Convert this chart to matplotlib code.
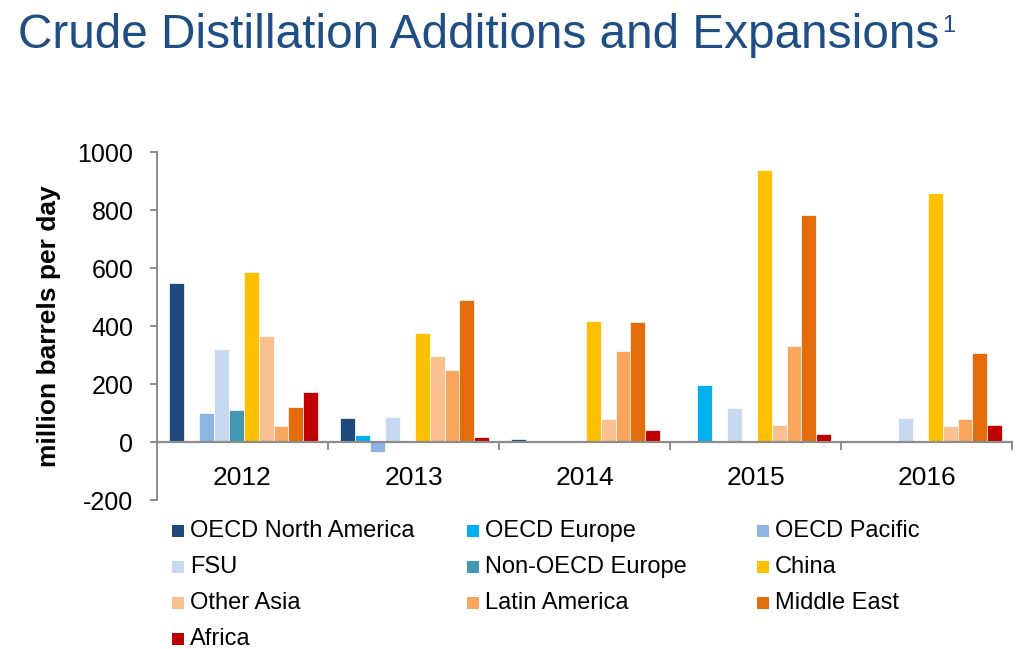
import matplotlib
matplotlib.use("Agg")
import matplotlib.pyplot as plt
from matplotlib.patches import Rectangle
import numpy as np

plt.rcParams['font.family'] = ['Liberation Sans', 'DejaVu Sans']

years = ['2012', '2013', '2014', '2015', '2016']
regions = ['OECD North America', 'OECD Europe', 'OECD Pacific', 'FSU',
           'Non-OECD Europe', 'China', 'Other Asia', 'Latin America',
           'Middle East', 'Africa']
colors = ['#1F497D', '#00B0F0', '#8EB4E3', '#C6D9F1', '#4298B4',
          '#FFC000', '#FAC090', '#F8A65E', '#E46C0A', '#C00000']

# capacity additions by region, one list per region across the years
oecd_north_america = [550, 83, 12, 0, 0]
oecd_europe = [0, 24, 0, 196, 0]
oecd_pacific = [100, -36, 0, 0, 0]
fsu = [320, 87, 0, 118, 82]
non_oecd_europe = [110, 0, 0, 0, 0]
china = [585, 377, 417, 938, 858]
other_asia = [364, 297, 80, 57, 56]
latin_america = [54, 248, 313, 332, 80]
middle_east = [122, 490, 415, 784, 307]
africa = [172, 17, 42, 27, 57]

series = [oecd_north_america, oecd_europe, oecd_pacific, fsu, non_oecd_europe,
          china, other_asia, latin_america, middle_east, africa]

W, H = 1027, 649
fig = plt.figure(figsize=(W / 100, H / 100), dpi=100)
ax = fig.add_axes([157 / W, 1 - 500 / H, (1012 - 157) / W, (500 - 152) / H])

x = np.arange(len(years))
bw = 0.0872
shift = 0.007
for j, (vals, col) in enumerate(zip(series, colors)):
    v = np.array(vals, dtype=float)
    pos = x + (j - 4.5) * bw + shift
    mask = v != 0
    ax.bar(pos[mask], v[mask], width=bw, color=col, edgecolor='white',
           linewidth=0.5, zorder=2)

axis_gray = '#8C8C8C'
ax.set_xlim(-0.5, len(years) - 0.5)
ax.set_ylim(-200, 1000)
ax.set_yticks(np.arange(-200, 1001, 200))
ax.set_yticklabels([str(t) for t in range(-200, 1001, 200)])

for s in ['top', 'right']:
    ax.spines[s].set_visible(False)
ax.spines['left'].set_color(axis_gray)
ax.spines['left'].set_linewidth(1.4)
ax.spines['bottom'].set_position(('data', 0))
ax.spines['bottom'].set_color(axis_gray)
ax.spines['bottom'].set_linewidth(1.6)
ax.spines['bottom'].set_zorder(3)

ax.set_xticks(x)
ax.set_xticklabels(years)
ax.set_xticks(np.arange(-0.5, len(years), 1.0), minor=True)
ax.tick_params(axis='x', which='major', length=0, pad=17, labelsize=19)
ax.tick_params(axis='x', which='minor', length=6, width=1.4, color=axis_gray,
               direction='out')
ax.tick_params(axis='y', length=5, width=1.4, color=axis_gray, pad=12,
               labelsize=18, direction='out')

ax.set_ylabel('million barrels per day', fontsize=19, fontweight='bold',
              labelpad=12)

# title with superscript footnote marker
title_color = '#1F4E85'
t = fig.text(18 / W, 1 - 48 / H, 'Crude Distillation Additions and Expansions',
             fontsize=34.4, color=title_color, va='baseline', ha='left')
fig.canvas.draw()
bb = t.get_window_extent()
fig.text((bb.x1 + 3) / W, 1 - 32 / H, '1', fontsize=17, color=title_color,
         va='baseline', ha='left')

# legend laid out in rows of three
col_x = [172, 467, 757]
row_y = [531, 567, 603, 639]
sq = 12
for k, (name, col) in enumerate(zip(regions, colors)):
    r, c = divmod(k, 3)
    cx, cy = col_x[c], row_y[r]
    fig.patches.append(Rectangle((cx / W, 1 - (cy + sq / 2) / H), sq / W, sq / H,
                                 transform=fig.transFigure, facecolor=col,
                                 edgecolor='none'))
    fig.text((cx + 18) / W, 1 - cy / H, name, fontsize=17, va='center',
             ha='left')

fig.savefig('out.png', dpi=100)
